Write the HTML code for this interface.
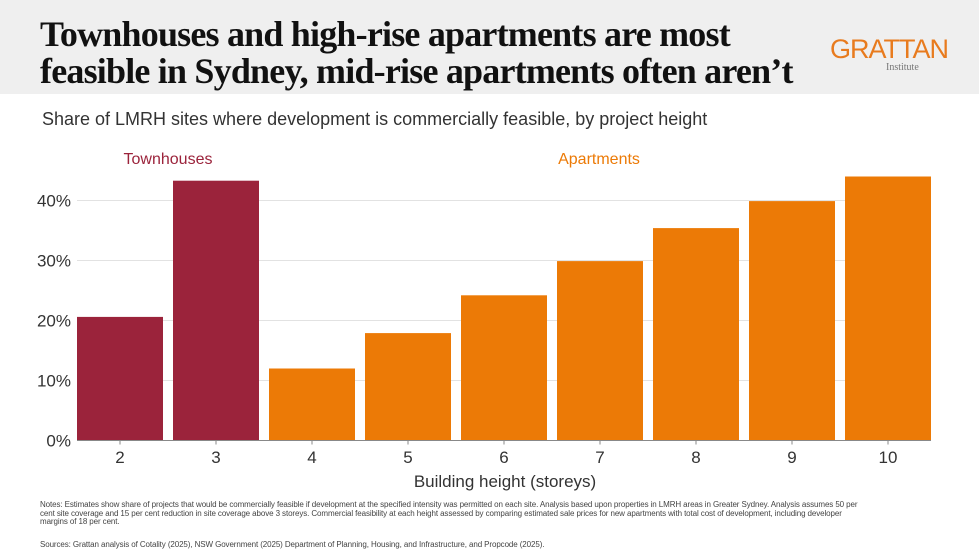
<!DOCTYPE html>
<html><head><meta charset="utf-8"><style>
body{margin:0;width:979px;height:558px;background:#fff;overflow:hidden;font-family:"Liberation Sans",sans-serif;}
#hdr{position:absolute;left:0;top:0;width:979px;height:94px;background:#efefef;}
#title{position:absolute;left:40px;top:16px;font-family:"Liberation Serif",serif;font-weight:bold;font-size:36px;line-height:37px;color:#111;letter-spacing:-0.8px;white-space:nowrap;}
#logo{position:absolute;left:830px;top:34px;font-size:27px;color:#e87b1e;letter-spacing:-1px;}
#logo2{position:absolute;left:886px;top:62px;font-family:"Liberation Serif",serif;font-size:10px;color:#777;}
#sub{position:absolute;left:42px;top:109px;font-size:18px;color:#333;white-space:nowrap;}
.notes{position:absolute;left:40px;font-size:8px;color:#444;line-height:8.7px;width:820px;letter-spacing:-0.1px;}
</style></head><body>
<div id="hdr"></div>
<div id="title">Townhouses and high-rise apartments are most<br>feasible in Sydney, mid-rise apartments often aren’t</div>
<div id="logo">GRATTAN</div>
<div id="logo2">Institute</div>
<div id="sub">Share of LMRH sites where development is commercially feasible, by project height</div>
<svg id="chart" width="979" height="558" style="position:absolute;left:0;top:0"></svg>
<div class="notes" style="top:501px">Notes: Estimates show share of projects that would be commercially feasible if development at the specified intensity was permitted on each site. Analysis based upon properties in LMRH areas in Greater Sydney. Analysis assumes 50 per cent site coverage and 15 per cent reduction in site coverage above 3 storeys. Commercial feasibility at each height assessed by comparing estimated sale prices for new apartments with total cost of development, including developer margins of 18 per cent.</div>
<div class="notes" style="top:541px">Sources: Grattan analysis of Cotality (2025), NSW Government (2025) Department of Planning, Housing, and Infrastructure, and Propcode (2025).</div>
<script>
const categories=["2","3","4","5","6","7","8","9","10"];
const values=[20.6,43.3,12.0,17.9,24.2,29.9,35.4,39.9,44.0];
const groups=["Townhouses","Townhouses","Apartments","Apartments","Apartments","Apartments","Apartments","Apartments","Apartments"];
const yTicks=[0,10,20,30,40];
const yTickLabels=["0%","10%","20%","30%","40%"];
const NS="http://www.w3.org/2000/svg";
const svg=document.getElementById('chart');
const x0=77,x1=931,y0=440.5,pxPerUnit=6.0,gap=10;
const step=(x1-x0+gap)/categories.length;
const bw=step-gap;
function xs(i){return x0+i*step;}
function ys(v){return y0-v*pxPerUnit;}
function mk(t,a){const e=document.createElementNS(NS,t);for(const k in a)e.setAttribute(k,a[k]);svg.appendChild(e);return e;}
yTicks.forEach((t,i)=>{
  if(t>0){const g=mk('line',{x1:x0,x2:x1,y1:ys(t),y2:ys(t),stroke:'#e2e2e2','stroke-width':1});
  
  }
  const l=mk('text',{x:71,y:ys(t)+6,'text-anchor':'end','font-size':17,fill:'#333','font-family':'Liberation Sans, sans-serif'});
  l.textContent=yTickLabels[i];
  
  
});
const colors={Townhouses:'#9b233b',Apartments:'#ec7a06'};
categories.forEach((c,i)=>{
  const b=mk('rect',{x:xs(i),y:ys(values[i]),width:bw,height:y0-ys(values[i]),fill:colors[groups[i]]});
  
  
  const cx=xs(i)+bw/2;
  const tk=mk('line',{x1:cx,x2:cx,y1:y0,y2:y0+4,stroke:'#888'});
  
  
  const l=mk('text',{x:cx,y:463,'text-anchor':'middle','font-size':17,fill:'#333','font-family':'Liberation Sans, sans-serif'});
  l.textContent=c;
  
  
});
const ax=mk('line',{x1:x0,x2:x1,y1:y0,y2:y0,stroke:'#888','stroke-width':1});


const at=mk('text',{x:505,y:487,'text-anchor':'middle','font-size':17,fill:'#333','font-family':'Liberation Sans, sans-serif'});
at.textContent='Building height (storeys)';


const g1=mk('text',{x:168,y:164,'text-anchor':'middle','font-size':16,fill:'#9b233b','font-family':'Liberation Sans, sans-serif'});
g1.textContent='Townhouses';


const g2=mk('text',{x:599,y:164,'text-anchor':'middle','font-size':16,fill:'#ec7a06','font-family':'Liberation Sans, sans-serif'});
g2.textContent='Apartments';


</script>
</body></html>
